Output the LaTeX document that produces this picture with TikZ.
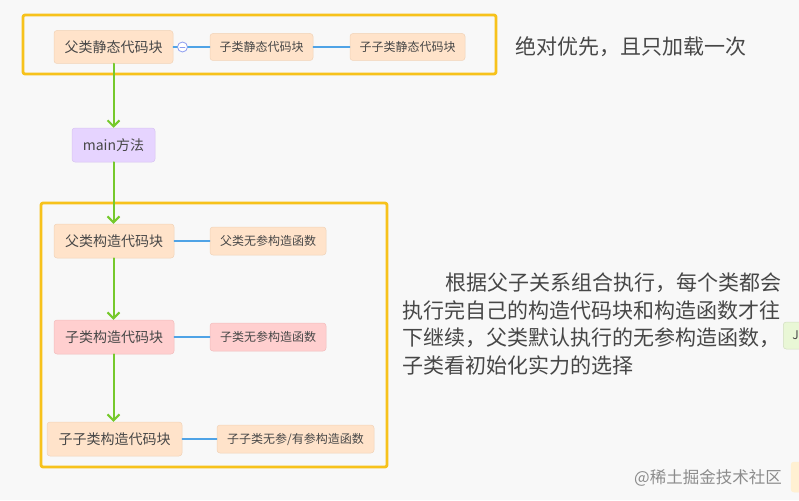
\documentclass[tikz,border=0pt]{standalone}
\usepackage{fontspec}
\setmainfont{Noto Sans CJK SC}
\usetikzlibrary{arrows.meta}

\definecolor{bgcol}{HTML}{F8F8F8}
\definecolor{peach}{HTML}{FFE3CA}
\definecolor{peachedge}{HTML}{F1D3B8}
\definecolor{lavender}{HTML}{E6D4FF}
\definecolor{lavedge}{HTML}{D8C4F2}
\definecolor{rose}{HTML}{FFCFCF}
\definecolor{roseedge}{HTML}{F2BDBD}
\definecolor{framegold}{HTML}{F7C21B}
\definecolor{flowgreen}{HTML}{76C92C}
\definecolor{linkblue}{HTML}{4FA3E6}
\definecolor{knobblue}{HTML}{8C9CF0}
\definecolor{txt}{HTML}{474747}
\definecolor{mintfill}{HTML}{E9F7D6}
\definecolor{creamfill}{HTML}{FFF0D2}

\begin{document}
\begin{tikzpicture}[x=1pt,y=-1pt,line cap=round,line join=round,
  box/.style={rounded corners=3pt,fill=peach,draw=peachedge,line width=0.5pt,
    text=txt,inner sep=0pt},
  bigbox/.style={box,font=\fontsize{14}{16}\selectfont},
  smallbox/.style={box,font=\fontsize{12}{14}\selectfont},
  flow/.style={draw=flowgreen,line width=2pt,
    -{Straight Barb[length=6pt,width=12pt,line width=2pt]}},
  link/.style={draw=linkblue,line width=1.3pt},
  frame/.style={draw=framegold,line width=2.8pt,rounded corners=2pt},
  note/.style={text=txt,inner sep=0pt,font=\fontsize{21}{28}\selectfont}]

  % canvas
  \fill[bgcol] (0,0) rectangle (799,500);
  \useasboundingbox (0,0) rectangle (799,500);
  \clip (0,0) rectangle (799,500);

  % static blocks
  \draw[frame] (23,15) rectangle (496,74);
  \node[bigbox,minimum width=119pt,minimum height=33pt] (fstatic) at (113.5,47) {父类静态代码块};
  \node[smallbox,minimum width=103pt,minimum height=27pt] (zstatic) at (261.5,47) {子类静态代码块};
  \node[smallbox,minimum width=115pt,minimum height=27pt] (zzstatic) at (407.5,47) {子子类静态代码块};
  \node[circle,draw=knobblue,fill=white,line width=0.8pt,minimum size=10pt,inner sep=0pt] (knob) at (182.5,47) {};
  \draw[knobblue,line width=0.8pt] ([xshift=-2.5pt]knob.center) -- ([xshift=2.5pt]knob.center);
  \draw[link] (fstatic.east) -- (knob.west);
  \draw[link] (knob.east) -- (zstatic.west);
  \draw[link] (zstatic.east) -- (zzstatic.west);

  % main
  \node[bigbox,fill=lavender,draw=lavedge,minimum width=83pt,minimum height=34pt] (mainm) at (113.5,145) {main方法};

  % constructor blocks
  \draw[frame] (41,203) rectangle (387,467);
  \node[bigbox,minimum width=120pt,minimum height=34pt] (fblock) at (114,241) {父类构造代码块};
  \node[smallbox,minimum width=116pt,minimum height=28pt] (fctor) at (268,241) {父类无参构造函数};
  \node[bigbox,fill=rose,draw=roseedge,minimum width=120pt,minimum height=34pt] (zblock) at (114,337) {子类构造代码块};
  \node[smallbox,fill=rose,draw=roseedge,minimum width=116pt,minimum height=28pt] (zctor) at (268,337) {子类无参构造函数};
  \node[bigbox,minimum width=135pt,minimum height=34pt] (zzblock) at (114.5,439) {子子类构造代码块};
  \node[smallbox,minimum width=157pt,minimum height=28pt] (zzctor) at (295.5,439) {子子类无参/有参构造函数};
  \draw[link] (fblock.east) -- (fctor.west);
  \draw[link] (zblock.east) -- (zctor.west);
  \draw[link] (zzblock.east) -- (zzctor.west);

  % flow
  \draw[flow] (fstatic.south -| mainm.north) -- (mainm.north);
  \draw[flow] (mainm.south) -- (mainm.south |- fblock.north);
  \draw[flow] (fblock.south -| mainm.south) -- (mainm.south |- zblock.north);
  \draw[flow] (zblock.south -| mainm.south) -- (mainm.south |- zzblock.north);

  % notes
  \node[note,anchor=base west] (staticnote) at (515,55) {绝对优先，且只加载一次};
  \node[note,anchor=base west] (ctorone) at (445,290) {根据父子关系组合执行，每个类都会};
  \node[note,anchor=base west] (ctortwo) at (402,318) {执行完自己的构造代码块和构造函数才往};
  \node[note,anchor=base west] (ctorthree) at (402,345) {下继续，父类默认执行的无参构造函数，};
  \node[note,anchor=base west] (ctorfour) at (402,373) {子类看初始化实力的选择};

  % cut-off neighbours at the edge
  \node[box,fill=mintfill,draw=mintfill!90!black,minimum width=30pt,minimum height=27pt,
    anchor=west,align=left,text width=12pt,inner xsep=9pt,
    font=\fontsize{12}{14}\selectfont] (edgegreen) at (783,335.5) {J};
  \node[box,fill=creamfill,draw=creamfill,minimum width=30pt,minimum height=30pt] (edgecream) at (806,477) {};

  % watermark
  \node[text=black!45,inner sep=0pt,anchor=base east,font=\fontsize{16.5}{18}\selectfont] (mark) at (782,483) {@稀土掘金技术社区};
\end{tikzpicture}
\end{document}
